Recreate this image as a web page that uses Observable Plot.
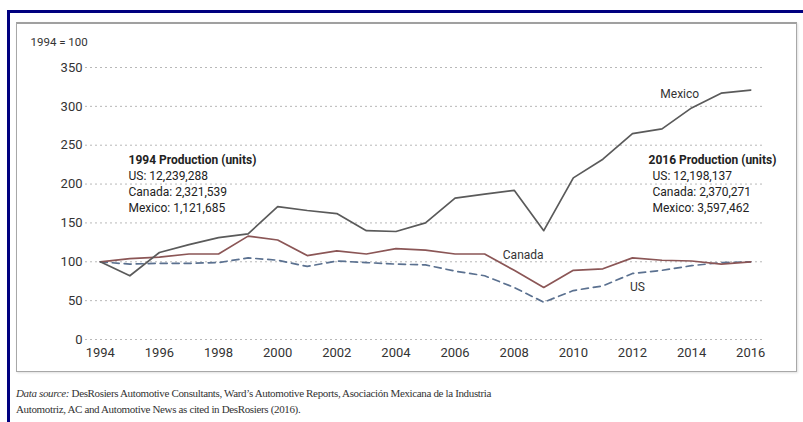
<!DOCTYPE html>
<html>
<head>
<meta charset="utf-8">
<script src="https://cdn.jsdelivr.net/npm/d3@7"></script>
<script src="https://cdn.jsdelivr.net/npm/@observablehq/plot@0.6"></script>
<style>
  html, body { margin: 0; padding: 0; background: #fff; width: 803px; height: 422px; overflow: hidden; }
  #frame { position: absolute; left: 7px; top: 10px; width: 820px; height: 440px;
           border-top: 3px solid #00007f; border-left: 3px solid #00007f; box-sizing: border-box; }
  #box { position: absolute; left: 16px; top: 22px; width: 781px; height: 350px;
         border: 1px solid #a8a8a8; border-top: 2px solid #a0a0a0; box-sizing: border-box;
         box-shadow: 1px 1px 2px rgba(0,0,0,0.12); }
  #chart { position: absolute; left: 0; top: 0; }
  #caption { position: absolute; left: 16px; top: 385px; font-family: "Liberation Serif", serif;
             font-size: 11px; letter-spacing: -0.35px; line-height: 16px; color: #333; white-space: nowrap; }
  #caption i { font-style: italic; }
</style>
</head>
<body>
<div id="frame"></div>
<div id="box"></div>
<div id="chart"></div>
<div id="caption"><i>Data source:</i> DesRosiers Automotive Consultants, Ward’s Automotive Reports, Asociación Mexicana de la Industria<br>Automotriz, AC and Automotive News as cited in DesRosiers (2016).</div>
<script>
// ---- data ----
const years  = [1994,1995,1996,1997,1998,1999,2000,2001,2002,2003,2004,2005,2006,2007,2008,2009,2010,2011,2012,2013,2014,2015,2016];
const mexico = [100, 82,112,122,131,136,171,166,162,140,139,150,182,187,192,140,208,232,265,271,298,317,321];
const canada = [100,104,106,110,110,133,128,108,114,110,117,115,110,110, 89, 67, 89, 91,105,102,101, 97,100];
const us     = [100, 97, 98, 98, 99,105,102, 94,101, 99, 97, 96, 88, 82, 67, 48, 63, 69, 85, 89, 95, 99,100];
const xTicks = [1994,1996,1998,2000,2002,2004,2006,2008,2010,2012,2014,2016];
const yTicks = [0,50,100,150,200,250,300,350];
const indexLabel = "1994 = 100";
const title1994 = "1994 Production (units)";
const lines1994 = ["US: 12,239,288", "Canada: 2,321,539", "Mexico: 1,121,685"];
const title2016 = "2016 Production (units)";
const lines2016 = ["US: 12,198,137", "Canada: 2,370,271", "Mexico: 3,597,462"];

const toRows = (vals) => years.map((y, i) => ({year: y, value: vals[i]}));
const mx = toRows(mexico), ca = toRows(canada), usr = toRows(us);

const font = "Roboto, 'Open Sans', sans-serif";

const chart = Plot.plot({
  width: 803,
  height: 372,
  marginLeft: 85,
  marginRight: 38,
  marginTop: 67,
  marginBottom: 33,
  style: {fontFamily: font, fontSize: "13px", color: "#333", background: "transparent"},
  x: {domain: [1993.5, 2016.5], ticks: xTicks, tickFormat: d => String(d), tickSize: 0, tickPadding: 8, label: null},
  y: {domain: [0, 350], ticks: yTicks, tickSize: 0, tickPadding: 3, label: null},
  marks: [
    Plot.gridY(yTicks, {stroke: "#b8b8b8", strokeOpacity: 1, strokeDasharray: "2,3", strokeWidth: 1}),
    Plot.axisX({ticks: xTicks, tickFormat: d => String(d), tickSize: 0, tickPadding: 8, fill: "#333", fontSize: 13, label: null}),
    Plot.axisY({ticks: yTicks, tickSize: 0, tickPadding: 3, fill: "#333", fontSize: 13, label: null}),
    Plot.line(usr, {x: "year", y: "value", stroke: "#5b7190", strokeWidth: 1.7, strokeDasharray: "7,5"}),
    Plot.line(ca, {x: "year", y: "value", stroke: "#8b5656", strokeWidth: 1.7}),
    Plot.line(mx, {x: "year", y: "value", stroke: "#5a5a5a", strokeWidth: 1.7}),
    // series labels anchored to data points
    Plot.text([mx[21]], {x: "year", y: "value", text: () => "Mexico", textAnchor: "end", dx: -22, dy: 1, fill: "#333", fontSize: 12, stroke: "white", strokeWidth: 3}),
    Plot.text([ca[14]], {x: "year", y: "value", text: () => "Canada", textAnchor: "middle", dx: 9, dy: -15, fill: "#333", fontSize: 12}),
    Plot.text([usr[18]], {x: "year", y: "value", text: () => "US", textAnchor: "middle", dx: 5, dy: 14, fill: "#333", fontSize: 12}),
    // index note
    Plot.text([indexLabel], {frameAnchor: "top-left", dx: -55, dy: -30, textAnchor: "start", fill: "#333", fontSize: 11.5}),
    // production annotations
    Plot.text([title1994], {frameAnchor: "top-left", dx: 43, dy: 88, textAnchor: "start", fontWeight: "bold", fill: "#222", fontSize: 12}),
    Plot.text([lines1994.join("\n")], {frameAnchor: "top-left", dx: 43, dy: 101, textAnchor: "start", lineAnchor: "top", lineHeight: 1.333, fill: "#222", fontSize: 12}),
    Plot.text([title2016], {frameAnchor: "top-left", dx: 563, dy: 88, textAnchor: "start", fontWeight: "bold", fill: "#222", fontSize: 12}),
    Plot.text([lines2016.join("\n")], {frameAnchor: "top-left", dx: 567, dy: 101, textAnchor: "start", lineAnchor: "top", lineHeight: 1.333, fill: "#222", fontSize: 12})
  ]
});
document.getElementById("chart").appendChild(chart);
</script>
</body>
</html>
